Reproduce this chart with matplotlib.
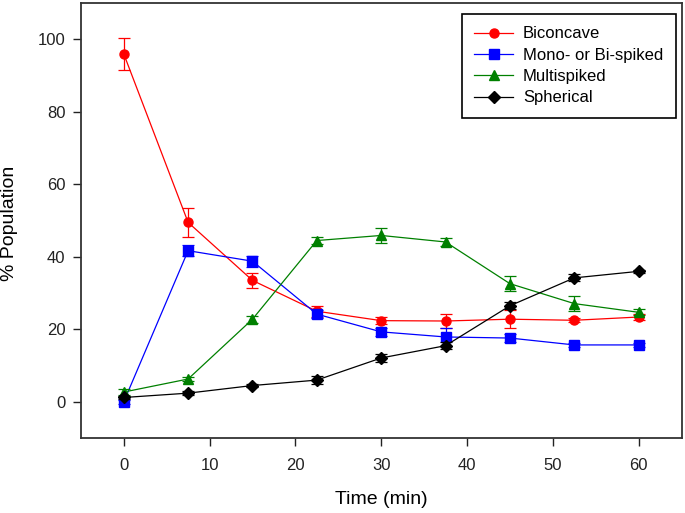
import matplotlib
matplotlib.use("Agg")
import matplotlib.pyplot as plt

plt.rcParams['font.family'] = ['Liberation Sans', 'DejaVu Sans']

# Time points (min)
time = [0, 7.5, 15, 22.5, 30, 37.5, 45, 52.5, 60]

# % population per shape, with error bars
biconcave = [96, 49.5, 33.5, 25, 22.4, 22.3, 22.8, 22.5, 23.4]
biconcaveErr = [4.5, 4, 2, 1.5, 1, 2, 2.5, 0.5, 0.8]
monoBi = [0, 41.7, 38.8, 24.2, 19.3, 17.9, 17.6, 15.7, 15.7]
monoBiErr = [0.5, 1.5, 1.5, 1, 1, 2.5, 1, 0.5, 0.5]
multi = [2.7, 6.3, 22.8, 44.5, 45.9, 44.1, 32.6, 27.1, 24.7]
multiErr = [0.8, 0.5, 1, 1, 2, 1, 2, 2, 0.8]
spherical = [1.2, 2.4, 4.5, 6.0, 12.1, 15.5, 26.5, 34.2, 36.0]
sphericalErr = [0.5, 0.5, 0.5, 1, 1, 1, 1, 1, 0.5]

fig = plt.figure(figsize=(6.85, 5.13), dpi=100)
ax = fig.add_axes([0.118, 0.146, 0.877, 0.848])

series = [
    ("Biconcave", biconcave, biconcaveErr, "#ff0000", "o", 6.5),
    ("Mono- or Bi-spiked", monoBi, monoBiErr, "#0000ff", "s", 6.5),
    ("Multispiked", multi, multiErr, "#008000", "^", 7.5),
    ("Spherical", spherical, sphericalErr, "black", "D", 6.5),
]
for name, vals, err, col, mk, ms in series:
    ax.errorbar(time, vals, yerr=err, color=col, fmt='none',
                elinewidth=0.9, capsize=4.5, capthick=0.9)
    ax.plot(time, vals, color=col, marker=mk, markersize=ms,
            linewidth=0.9, label=name)

ax.set_xlim(-5, 65)
ax.set_ylim(-10, 110)
ax.set_xticks([0, 10, 20, 30, 40, 50, 60])
ax.set_yticks([0, 20, 40, 60, 80, 100])
ax.tick_params(direction='out', length=5.5, width=1, labelsize=12, colors='#222222')
ax.tick_params(axis='x', pad=9)
ax.tick_params(axis='y', pad=5.5)
for s in ax.spines.values():
    s.set_linewidth(1.3)
    s.set_color('#333333')

ax.set_xlabel("Time (min)", fontsize=14, va='center')
ax.xaxis.set_label_coords(0.5, -0.14)
ax.set_ylabel("% Population", fontsize=14, va='center')
ax.yaxis.set_label_coords(-0.118, 0.493)

leg = ax.legend(loc='upper right', bbox_to_anchor=(0.990, 0.975), borderaxespad=0,
                fontsize=12, fancybox=False, edgecolor='black', framealpha=1,
                handlelength=2.3, handletextpad=0.6, borderpad=0.75,
                labelspacing=0.38)
leg.get_frame().set_linewidth(1.2)

plt.savefig("out.png", dpi=100)
